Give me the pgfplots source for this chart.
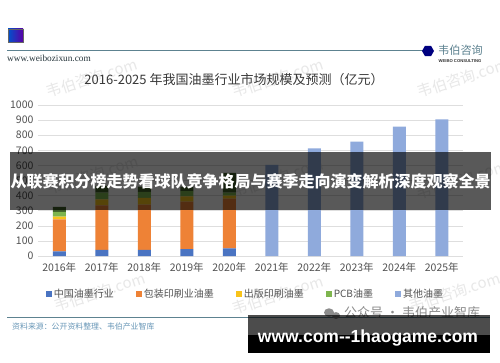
\documentclass[border=0pt]{standalone}
\usepackage{fontspec}
\setmainfont{Noto Sans CJK SC}
\newfontfamily\lsans{Liberation Sans}
\newfontfamily\lserif{Liberation Serif}
\usepackage{pgfplots}
\pgfplotsset{compat=1.18}
\usetikzlibrary{shapes.geometric}
\definecolor{cBlue}{HTML}{4A74C2}
\definecolor{cOrange}{HTML}{EE8236}
\definecolor{cYellow}{HTML}{F8C31A}
\definecolor{cGreen}{HTML}{7EB54E}
\definecolor{cLight}{HTML}{8FAADC}
\definecolor{cDark}{HTML}{3D5C28}
\definecolor{teal}{HTML}{5D8290}
\definecolor{srcblue}{HTML}{6A98B8}
\pgfplotsset{sq/.style={legend image code/.code={\fill[##1,draw=none] (0pt,-3pt) rectangle (6pt,3pt);}}}
\begin{document}
\begin{tikzpicture}[x=1pt,y=1pt]
\useasboundingbox (0,0) rectangle (500,362);
\clip (0,0) rectangle (500,362);
\fill[white] (0,0) rectangle (500,362);
% watermarks
\foreach \x/\y in {92/284, 278/284, 463/284, 93/187, 278/184, 462/182, 100/70, 278/67, 455/70}
  \node[rotate=18, text=black!9, font=\fontsize{15}{15}\selectfont] at (\x,\y) {韦伯咨询.com};
% header
\shade[left color=blue!60!cyan!80!black, right color=violet!70!blue, draw=black!60] (8,320) rectangle (23,333);
\draw[teal, line width=1.2pt] (7,311.3) -- (424,311.3);
\node[regular polygon, regular polygon sides=6, fill=blue!50!black, minimum size=12pt, inner sep=0pt] at (428,311) {};
\node[text=teal, font=\fontsize{11.2}{11.2}\selectfont, inner sep=0pt] at (460.5,311.5) {韦伯咨询};
\node[text=black!80, font=\lsans\bfseries\fontsize{4.2}{4.2}\selectfont, inner sep=0pt] at (460,301) {WEIBO CONSULTING};
\node[text=black!60!teal, font=\lserif\fontsize{9.3}{9.3}\selectfont, inner sep=0pt, anchor=west] at (7,304) {www.weibozixun.com};
\node[text=black!78, font=\fontsize{13}{13}\selectfont, inner sep=0pt] at (234,282) {2016-2025 年我国油墨行业市场规模及预测（亿元）};
\begin{axis}[at={(38pt,106pt)}, anchor=south west, scale only axis,
  width=425pt, height=151pt,
  ymin=0, ymax=1000, xmin=-0.5, xmax=9.5,
  ybar stacked, bar width=13pt,
  ytick={0,100,...,1000},
  xtick={0,...,9},
  xticklabels={2016年,2017年,2018年,2019年,2020年,2021年,2022年,2023年,2024年,2025年},
  ymajorgrids, grid style={draw=black!13, line width=0.6pt},
  axis line style={draw=none}, major tick length=0pt,
  /pgf/number format/assume math mode=true,
  /pgf/number format/1000 sep={},
  ticklabel style={text=black!68, font=\fontsize{10.5}{10.5}\selectfont},
  xticklabel style={yshift=-3pt},
  yticklabel style={xshift=-1pt},
  legend columns=5,
  legend style={at={(0.488,-0.252)}, anchor=center, draw=none, fill=none,
    font=\fontsize{10}{10}\selectfont, text=black!68,
    /tikz/every even column/.append style={column sep=20pt}},
]
\addplot[fill=cBlue, draw=none, sq] coordinates {(0,30) (1,40) (2,40) (3,45) (4,50) (5,0) (6,0) (7,0) (8,0) (9,0)};
\addlegendentry{中国油墨行业}
\addplot[fill=cOrange, draw=none, sq] coordinates {(0,213) (1,295) (2,300) (3,315) (4,330) (5,0) (6,0) (7,0) (8,0) (9,0)};
\addlegendentry{包装印刷业油墨}
\addplot[fill=cYellow, draw=none, sq] coordinates {(0,17) (1,40) (2,45) (3,35) (4,20) (5,0) (6,0) (7,0) (8,0) (9,0)};
\addlegendentry{出版印刷油墨}
\addplot[fill=cGreen, draw=none, sq] coordinates {(0,33) (1,45) (2,40) (3,35) (4,20) (5,0) (6,0) (7,0) (8,0) (9,0)};
\addlegendentry{PCB油墨}
\addplot[fill=cLight, draw=none, sq] coordinates {(0,0) (1,0) (2,0) (3,0) (4,0) (5,603) (6,713) (7,757) (8,856) (9,905)};
\addlegendentry{其他油墨}
\addplot[fill=cDark, draw=none, sq] coordinates {(0,33) (1,45) (2,35) (3,30) (4,130) (5,0) (6,0) (7,0) (8,0) (9,0)};
\end{axis}
% banner overlay
\fill[black, opacity=0.65] (10,152) rectangle (491,210);
\node[text=white, font=\bfseries\fontsize{16}{16}\selectfont, inner sep=0pt] at (250.5,181) {从联赛积分榜走势看球队竞争格局与赛季走向演变解析深度观察全景};
% footer
\draw[teal, line width=1pt] (7,45) -- (490,45);
\node[text=srcblue, font=\fontsize{7.9}{7.9}\selectfont, inner sep=0pt, anchor=west] at (12,35) {资料来源：公开资料整理、韦伯产业智库};
\fill[black!45] (329,49.5) ellipse (5pt and 4.2pt);
\fill[black!45] (336,46.5) ellipse (4pt and 3.4pt);
\node[text=black!45, font=\fontsize{13}{13}\selectfont, inner sep=0pt, anchor=west] at (344,49) {公众号 · 韦伯产业智库};
\fill[black, opacity=0.7] (248,27) rectangle (490,47);
\fill[black] (248,9) rectangle (490,27);
\node[text=white, font=\lsans\bfseries\fontsize{17.5}{17.5}\selectfont, inner sep=0pt] at (368,23.5) {www.com--1haogame.com};
\end{tikzpicture}
\end{document}
